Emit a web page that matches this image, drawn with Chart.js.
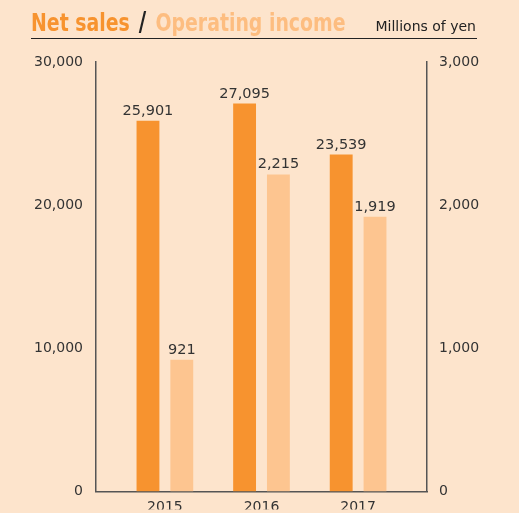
<!DOCTYPE html>
<html>
<head>
<meta charset="utf-8">
<script src="https://cdn.jsdelivr.net/npm/chart.js@4"></script>
<style>
  html, body { margin: 0; padding: 0; background: #fde4cc; }
  #wrap { position: relative; width: 519px; height: 513px; }
  #head {
    position: absolute; left: 31px; top: 0; width: 446px; height: 38px;
    border-bottom: 1px solid #222; pointer-events: none;
  }
  #head .t {
    position: absolute; left: 0; bottom: 1px;
    font: bold 25px "DejaVu Sans Condensed", "DejaVu Sans", sans-serif;
    white-space: nowrap;
    transform: scaleX(0.84); transform-origin: left bottom;
  }
  #head .t .sl { color: #222; font-size: 27px; padding: 0 3px; }
  #head .u {
    position: absolute; right: 1px; bottom: 4px;
    font: 14px "DejaVu Sans", sans-serif; color: #222;
  }
</style>
</head>
<body>
<div id="wrap">
  <canvas id="canvas"></canvas>
  <div id="head">
    <span class="t"><span style="color:#f7932f">Net sales</span> <span class="sl">/</span> <span style="color:#fdbd80">Operating income</span></span>
    <span class="u">Millions of yen</span>
  </div>
</div>
<script>
const years = ['2015', '2016', '2017'];
const netSales = [25901, 27095, 23539];
const operatingIncome = [921, 2215, 1919];
const salesTicks = [0, 10000, 20000, 30000];
const incomeTicks = [0, 1000, 2000, 3000];

const fmt = v => Number(v).toLocaleString('en-US');

// value labels above each bar
const barLabels = {
  id: 'barLabels',
  afterDatasetsDraw(chart) {
    const ctx = chart.ctx;
    ctx.save();
    ctx.font = '14.5px "DejaVu Sans", sans-serif';
    ctx.fillStyle = '#333';
    ctx.textAlign = 'center';
    ctx.textBaseline = 'alphabetic';
    chart.data.datasets.forEach((ds, i) => {
      chart.getDatasetMeta(i).data.forEach((bar, j) => {
        ctx.fillText(fmt(ds.data[j].y), bar.x, bar.y - 6);
      });
    });
    ctx.restore();
  }
};

const ctx = document.getElementById('canvas').getContext('2d');
const myChart = new Chart(ctx, {
  type: 'bar',
  data: {
    datasets: [{
      label: 'Net sales',
      data: netSales.map((v, i) => ({x: i, y: v})),
      backgroundColor: '#f7932f',
      yAxisID: 'y'
    }, {
      label: 'Operating income',
      data: operatingIncome.map((v, i) => ({x: i, y: v})),
      backgroundColor: '#fdc590',
      yAxisID: 'y1'
    }]
  },
  options: {
    responsive: true,
    maintainAspectRatio: false,
    animation: false,
    categoryPercentage: 0.70,
    barPercentage: 0.676,
    layout: { padding: { top: 62, left: 0, right: 0, bottom: 0 } },
    plugins: { legend: { display: false }, tooltip: { enabled: false } },
    scales: {
      x: {
        type: 'linear',
        offset: false,
        min: -0.713,
        max: 2.713,
        grid: { display: false, drawTicks: false, offset: false },
        border: { display: true, color: '#555', width: 1.5 },
        afterBuildTicks: s => { s.ticks = years.map((_, i) => ({value: i})); },
        afterFit: s => { s.height = 18; },
        ticks: {
          padding: 7,
          color: '#333',
          font: { family: 'DejaVu Sans', size: 14 },
          callback: v => years[v]
        }
      },
      y: {
        position: 'left',
        min: 0,
        max: 30000,
        grid: { display: false, drawTicks: false },
        border: { display: true, color: '#555', width: 1.5 },
        afterBuildTicks: s => { s.ticks = salesTicks.map(v => ({value: v})); },
        afterFit: s => { s.width = 96; },
        ticks: {
          padding: 13,
          color: '#333',
          font: { family: 'DejaVu Sans', size: 14 },
          callback: v => fmt(v)
        }
      },
      y1: {
        position: 'right',
        min: 0,
        max: 3000,
        grid: { display: false, drawTicks: false },
        border: { display: true, color: '#555', width: 1.5 },
        afterBuildTicks: s => { s.ticks = incomeTicks.map(v => ({value: v})); },
        afterFit: s => { s.width = 92; },
        ticks: {
          padding: 12,
          color: '#333',
          font: { family: 'DejaVu Sans', size: 14 },
          callback: v => fmt(v)
        }
      }
    }
  },
  plugins: [barLabels]
});
</script>
</body>
</html>
